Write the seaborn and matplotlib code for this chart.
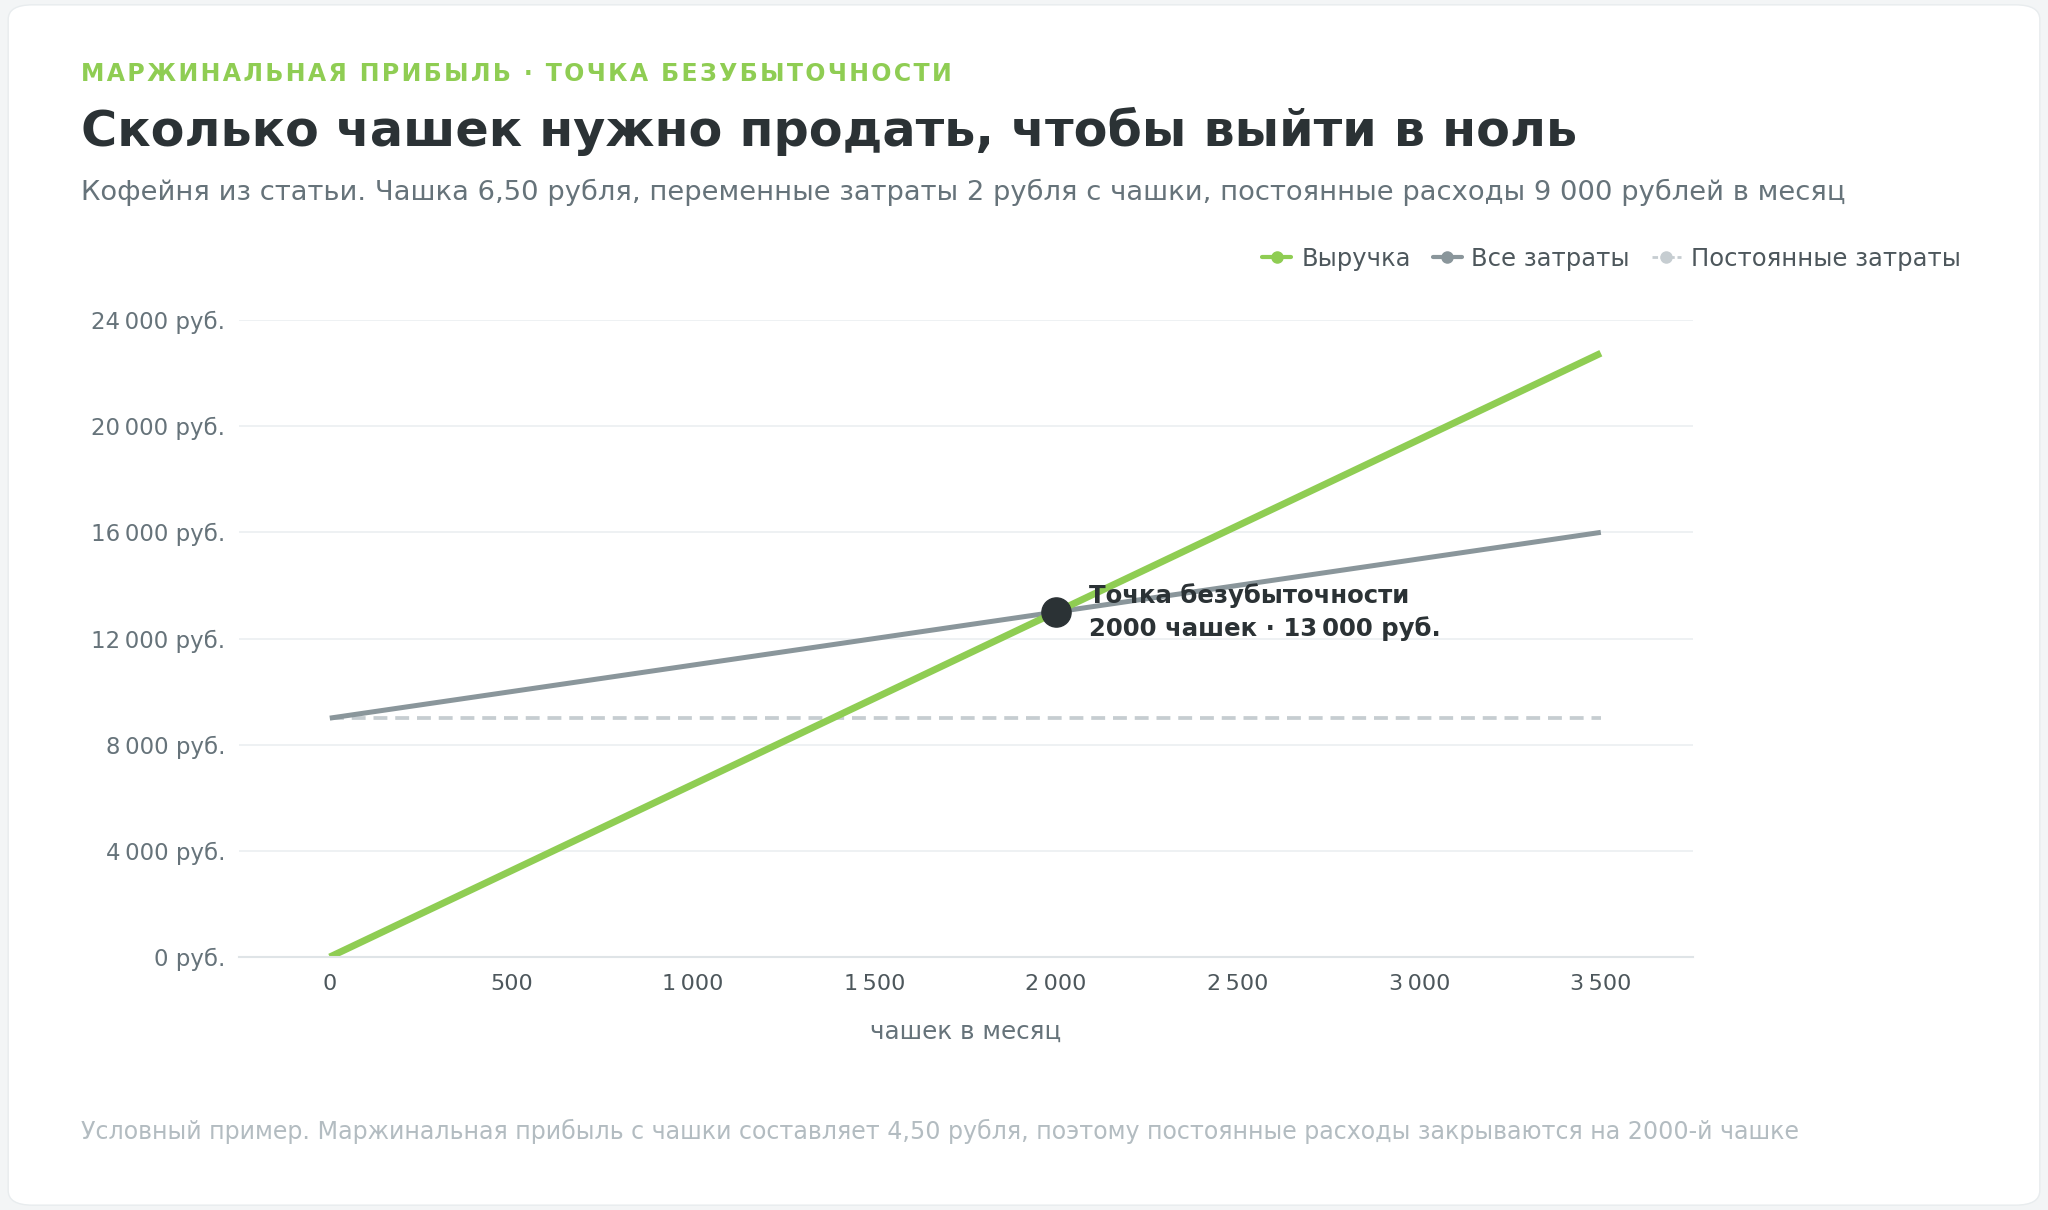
import numpy as np
import pandas as pd
import matplotlib
matplotlib.use("Agg")
import matplotlib.pyplot as plt
from matplotlib.lines import Line2D
from matplotlib.patches import FancyBboxPatch
import seaborn as sns

# данные
cups = [0, 500, 1000, 1500, 2000, 2500, 3000, 3500]
revenue = [0, 3250, 6500, 9750, 13000, 16250, 19500, 22750]
total_costs = [9000, 10000, 11000, 12000, 13000, 14000, 15000, 16000]
fixed_costs = [9000, 9000, 9000, 9000, 9000, 9000, 9000, 9000]
series_names = ["Выручка", "Все затраты", "Постоянные затраты"]
be_cups, be_value = 2000, 13000

y_ticks = [0, 4000, 8000, 12000, 16000, 20000, 24000]
x_ticks = [0, 500, 1000, 1500, 2000, 2500, 3000, 3500]

GREEN = "#8fcd53"
GRAY = "#8a969b"
LIGHT = "#c6cdd1"
DARK = "#2b3235"
MUTED = "#66737a"

sns.set_theme(style="white")
plt.rcParams["font.family"] = ["DejaVu Sans"]

df = pd.DataFrame({
    "cups": cups * 3,
    "value": revenue + total_costs + fixed_costs,
    "series": [series_names[0]] * len(cups) + [series_names[1]] * len(cups) + [series_names[2]] * len(cups),
})

fig = plt.figure(figsize=(20.48, 12.10), dpi=100)
fig.patch.set_facecolor("#f3f5f6")
card = FancyBboxPatch((0.004, 0.004), 0.992, 0.992, boxstyle="round,pad=0,rounding_size=0.012",
                      transform=fig.transFigure, facecolor="white", edgecolor="#e8ecee", lw=1, zorder=-1)
fig.patches.append(card)

ax = fig.add_axes([0.1167, 0.2091, 0.71, 0.5264])
ax.set_facecolor("none")
ax.set_zorder(1)

palette = {series_names[0]: GREEN, series_names[1]: GRAY, series_names[2]: LIGHT}
dashes = {series_names[0]: "", series_names[1]: "", series_names[2]: (3.7, 2.1)}
sizes = {series_names[0]: 5.0, series_names[1]: 3.6, series_names[2]: 2.7}
sns.lineplot(data=df, x="cups", y="value", hue="series", style="series", size="series",
             palette=palette, dashes=dashes, sizes=sizes, legend=False, ax=ax,
             hue_order=series_names[::-1], style_order=series_names[::-1], size_order=series_names[::-1])
for ln in ax.lines:
    ln.set_solid_capstyle("butt")
    ln.set_dash_capstyle("butt")

ax.plot([be_cups], [be_value], "o", color=DARK, markersize=21, zorder=5)
ax.annotate("Точка безубыточности\n2000 чашек · 13\u202f000 руб.",
            xy=(be_cups, be_value), xytext=(24, 0), textcoords="offset points",
            ha="left", va="center", fontsize=17.6, fontweight="bold", color=DARK,
            linespacing=1.4, zorder=6)

ax.set_xlim(-250, 3754)
ax.set_ylim(0, 24000)
ax.set_yticks(y_ticks)
ax.set_yticklabels([f"{v:,}".replace(",", "\u202f") + " руб." for v in y_ticks])
ax.set_xticks(x_ticks)
ax.set_xticklabels([f"{v:,}".replace(",", "\u202f") for v in x_ticks])
ax.tick_params(axis="y", labelsize=16.5, labelcolor=MUTED, length=0, pad=10)
ax.tick_params(axis="x", labelsize=16, labelcolor="#4d575c", length=0, pad=12)
ax.grid(axis="y", color="#edf0f2", lw=1.3)
ax.grid(axis="x", visible=False)
for s in ["top", "right", "left"]:
    ax.spines[s].set_visible(False)
ax.spines["bottom"].set_color("#dfe4e7")
ax.spines["bottom"].set_linewidth(1.5)
ax.set_xlabel("чашек в месяц", fontsize=17.7, color=MUTED, labelpad=19)
ax.set_ylabel("")

handles = [
    Line2D([], [], color=GREEN, lw=3, marker="o", markersize=8),
    Line2D([], [], color=GRAY, lw=3, marker="o", markersize=8),
    Line2D([], [], color=LIGHT, lw=2, ls=(0, (2, 1)), marker="o", markersize=8),
]
fig.legend(handles, series_names, loc="center right", bbox_to_anchor=(0.968, 0.786), ncol=3,
           frameon=False, fontsize=17.5, labelcolor="#4d575c", handlelength=1.2,
           handletextpad=0.4, columnspacing=0.9)

kicker = "МАРЖИНАЛЬНАЯ ПРИБЫЛЬ · ТОЧКА БЕЗУБЫТОЧНОСТИ"
fig.text(0.0396, 0.939, "\u200a".join(kicker), fontsize=17,
         fontweight="bold", color=GREEN, va="center")
fig.text(0.0396, 0.891, "Сколько чашек нужно продать, чтобы выйти в ноль", fontsize=35.5,
         fontweight="bold", color=DARK, va="center")
fig.text(0.0396, 0.841, "Кофейня из статьи. Чашка 6,50 рубля, переменные затраты 2 рубля с чашки, "
         "постоянные расходы 9 000 рублей в месяц", fontsize=19.7, color=MUTED, va="center")
fig.text(0.0396, 0.065, "Условный пример. Маржинальная прибыль с чашки составляет 4,50 рубля, "
         "поэтому постоянные расходы закрываются на 2000-й чашке", fontsize=17.1,
         color="#b3bcc1", va="center")

fig.savefig("out.png", dpi=100, facecolor=fig.get_facecolor())
